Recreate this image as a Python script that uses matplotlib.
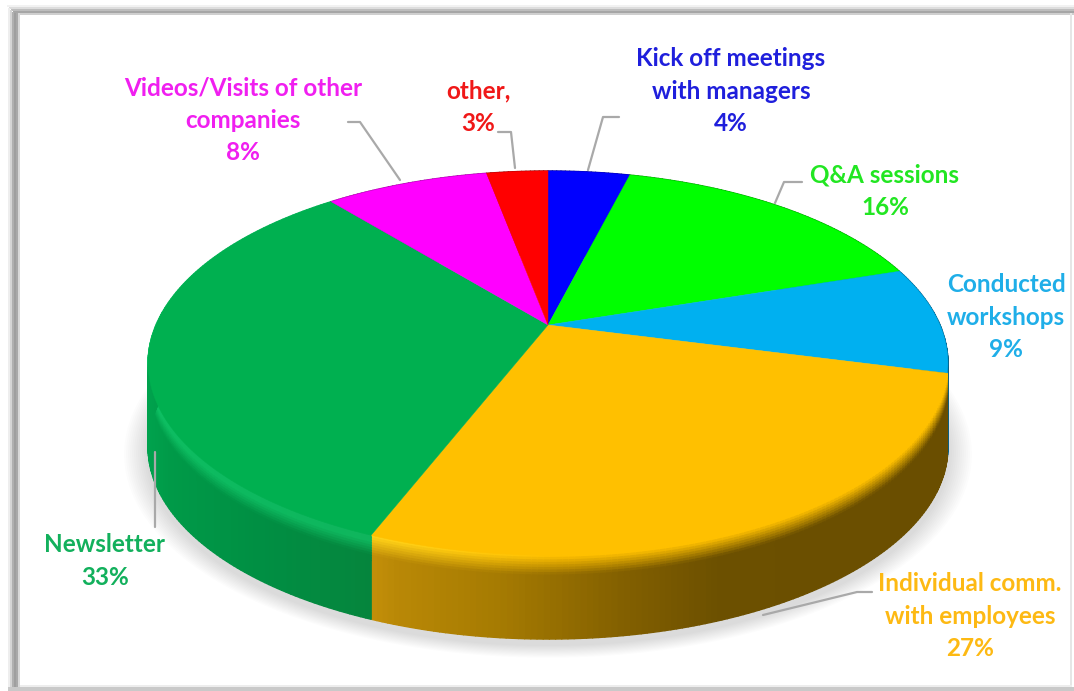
import numpy as np
import matplotlib
matplotlib.use("Agg")
import matplotlib.pyplot as plt
from matplotlib.collections import PolyCollection
from matplotlib.colors import to_rgb
from matplotlib.patches import Polygon, Rectangle

# Survey shares, clockwise from twelve o'clock
categories = ["Kick off meetings\nwith managers", "Q&A sessions", "Conducted\nworkshops",
              "Individual comm.\nwith employees", "Newsletter",
              "Videos/Visits of other\ncompanies", "other,"]
shares = [4, 16, 9, 27, 33, 8, 3]
colors = ["#0000ff", "#00ff00", "#00b0f0", "#ffc000", "#00b050", "#ff00ff", "#ff0000"]
text_colors = ["#1f1fdc", "#22e622", "#1faee8", "#fdb913", "#12b05c", "#f01ff0", "#f01818"]

# Canvas layout of the labels and their leader lines
label_xy = [(731, 91), (885, 191), (1006, 317), (970, 616), (105, 561), (243, 120), (478, 107)]
leaders = [[(588, 170), (603, 117), (619, 117)],
           [(775, 203), (784, 182), (802, 182)],
           None,
           [(763, 615), (857, 592), (872, 592)],
           [(155, 452), (155, 527)],
           [(400, 180), (360, 122), (348, 122)],
           [(515, 168), (511, 132), (498, 132)]]

# Perspective disc: centre, radii, foreshortening
CX, CY = 548, 325
RX, RY, K = 392, 184.5, 0.198
DEPTH = 84


def project(frac, r=1.0, drop=0.0):
    """Map a clockwise pie fraction and radius onto the tilted disc."""
    a = 2 * np.pi * np.asarray(frac)
    X, Y = r * np.sin(a), r * np.cos(a)
    w = 1 + K * Y
    return CX + RX * X / w, CY - RY * Y / w + drop


def mix(a, b, t):
    return tuple((1 - t) * np.array(a) + t * np.array(b))


def ramp(x, stops):
    xs, cs = zip(*stops)
    return tuple(np.interp(x, xs, [to_rgb(c)[i] for c in cs]) for i in range(3))


side_ramps = {
    2: [(0, "#075f86"), (2000, "#075f86")],
    3: [(370, "#c4900a"), (400, "#b98806"), (500, "#a67b02"), (620, "#846100"),
        (720, "#6c5000"), (950, "#6a4e00")],
    4: [(140, "#00a54f"), (170, "#009a48"), (260, "#008f43"), (385, "#06843c")],
}

fig = plt.figure(figsize=(10.74, 6.91), dpi=100)
ax = fig.add_axes([0, 0, 1, 1])
ax.set_xlim(0, 1074)
ax.set_ylim(691, 0)
ax.axis("off")
fig.patch.set_facecolor("white")

# Soft picture frame: darker on the top and left, pale on the right and bottom
for top, shade in [(5, "#f2f2f2"), (7, "#dddddd"), (9, "#bdbdbd"), (11, "#a6a6a6"), (13, "#cfcfcf")]:
    ax.add_patch(Rectangle((top + 2, top), 1074, 2, fc=shade, ec="none"))
for left, shade in [(8, "#eeeeee"), (10, "#d5d5d5"), (12, "#b0b0b0"), (14, "#9f9f9f"),
                    (16, "#a9a9a9"), (18, "#d9d9d9")]:
    ax.add_patch(Rectangle((left, left if left < 13 else 13), 2, 691, fc=shade, ec="none"))
ax.add_patch(Rectangle((1070, 13), 2, 675, fc="#e6e6e6", ec="none"))
ax.add_patch(Rectangle((8, 687), 1066, 4, fc="#c9c9c9", ec="none"))
ax.add_patch(Rectangle((20, 685), 1052, 2, fc="#ededed", ec="none"))

# Drop shadow under the disc
grid = np.linspace(0, 1, 361)
for grow in np.linspace(24, 2, 12):
    sx, sy = project(grid, drop=DEPTH + 6)
    mx, my = sx.mean(), sy.mean()
    scale = 1 + grow / 400
    ax.fill(mx + (sx - mx) * scale, my + (sy - my) * scale, color="#000000", alpha=0.012, lw=0)

edges = np.concatenate([[0], np.cumsum(shares)]) / np.sum(shares)

# Outer wall, shaded along the rim and fading through a bevel at the top
polys, fills = [], []
cuts = np.r_[np.linspace(0, 0.3, 11), 1.0]
for i, col in enumerate(colors):
    steps = np.linspace(edges[i], edges[i + 1], max(int(shares[i] * 5), 4))
    for f0, f1 in zip(steps[:-1], steps[1:]):
        x0, _ = project(f0)
        base = ramp(x0, side_ramps[i]) if i in side_ramps else mix(to_rgb(col), (0, 0, 0), 0.4)
        for d0, d1 in zip(cuts[:-1], cuts[1:]):
            mid = (d0 + d1) / 2
            if i == 3:
                tint = ramp(x0, [(370, "#ffd21a"), (560, "#ffc000")])
                shade = mix(tint, base, np.interp(mid, [0.02, 0.24], [0.0, 1.0]))
            elif i == 4:
                shade = mix(to_rgb("#14cf6e"), base, np.interp(mid, [0.03, 0.08, 0.24], [0.35, 0.35, 1.0]))
            else:
                shade = base
            xa, ya = project(f0, drop=d0 * DEPTH)
            xb, yb = project(f1, drop=d0 * DEPTH)
            xc, yc = project(f1, drop=d1 * DEPTH)
            xd, yd = project(f0, drop=d1 * DEPTH)
            polys.append([(xa, ya), (xb, yb), (xc, yc), (xd, yd)])
            fills.append(shade)
ax.add_collection(PolyCollection(polys, facecolors=fills, edgecolors=fills, linewidths=1.0))

# Top face of the pie
for i, col in enumerate(colors):
    frac = np.linspace(edges[i], edges[i + 1], max(int(shares[i] * 6), 8))
    px, py = project(frac)
    pts = np.column_stack([np.r_[CX, px], np.r_[CY, py]])
    ax.add_patch(Polygon(pts, closed=True, fc=col, ec=col, lw=0.3, zorder=3))

# Leader lines
for path in leaders:
    if path is not None:
        xs, ys = zip(*path)
        ax.plot(xs, ys, color="#a9a9a9", lw=1.6, solid_capstyle="round", zorder=2)

# Category labels with their percentages
for name, val, (lx, ly), tc in zip(categories, shares, label_xy, text_colors):
    ax.text(lx, ly, f"{name}\n{val}%", color=tc, ha="center", va="center", fontsize=17.5,
            family="Lato", weight="bold", linespacing=1.5, zorder=5)

fig.savefig("out.png", dpi=100, facecolor="white")
